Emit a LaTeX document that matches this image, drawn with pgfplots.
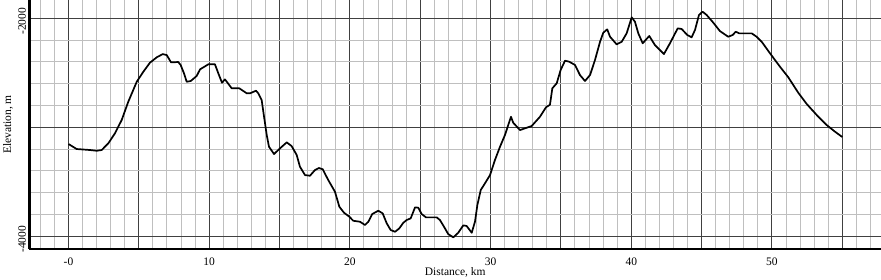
\documentclass[border=0pt]{standalone}
\usepackage{fontspec}
\setmainfont{Liberation Serif}
\usepackage{pgfplots}
\pgfplotsset{compat=1.18}
\begin{document}
\begin{tikzpicture}
\useasboundingbox (-29.5bp,-31bp) rectangle (851.5bp,249bp);
\begin{axis}[
  at={(0,0)}, anchor=south west,
  scale only axis, width=851.5bp, height=249bp,
  xmin=-2.772, xmax=57.75, ymin=-4116, ymax=-1832,
  axis x line*=bottom, axis y line*=left,
  axis line style={line width=2bp, -},
  xtick={0,5,...,55},
  xticklabels={{-0},{},{10},{},{20},{},{30},{},{40},{},{50},{}},
  minor xtick={-2,-1,...,57},
  ytick={-4000,-3000,-2000},
  yticklabels={{-4000},{},{-2000}},
  minor ytick={-4000,-3800,...,-1800},
  major tick length=0pt, minor tick length=0pt,
  grid=both,
  major grid style={color=black!75, line width=1bp},
  minor grid style={color=black!25, line width=1bp},
  every tick label/.append style={font=\fontsize{11.5bp}{13bp}\selectfont},
  xticklabel style={anchor=north, yshift=-5.5bp},
  yticklabel style={rotate=90, anchor=south, xshift=-3bp},
  xlabel={Distance, km}, ylabel={Elevation, m},
  label style={font=\fontsize{11.5bp}{13bp}\selectfont},
  xlabel style={at={(axis description cs:0.5,-0.094)}, anchor=center},
  ylabel style={at={(axis description cs:-0.0252,0.5)}, anchor=center},
  clip=true,
]
\addplot[black, line width=1.7bp, line join=round] coordinates {
(0.00,-3153) (0.58,-3199) (1.53,-3208) (2.00,-3215) (2.36,-3208) (2.83,-3147)
(3.30,-3055) (3.78,-2933) (4.25,-2765) (4.85,-2582) (5.32,-2490) (5.79,-2407)
(6.27,-2358) (6.70,-2328) (6.98,-2337) (7.29,-2404) (7.80,-2401) (7.97,-2428)
(8.21,-2505) (8.40,-2582) (8.69,-2575) (9.11,-2529) (9.35,-2468) (9.94,-2422)
(10.41,-2422) (10.65,-2505) (10.91,-2591) (11.12,-2560) (11.60,-2642) (12.14,-2642)
(12.67,-2688) (12.90,-2688) (13.33,-2664) (13.49,-2688) (13.73,-2750) (13.90,-2903)
(14.09,-3071) (14.25,-3178) (14.61,-3245) (15.03,-3193) (15.51,-3138) (15.86,-3172)
(16.22,-3254) (16.45,-3361) (16.81,-3438) (17.16,-3444) (17.52,-3392) (17.80,-3373)
(18.07,-3385) (18.46,-3483) (18.94,-3591) (19.25,-3728) (19.58,-3783) (19.96,-3820)
(20.24,-3857) (20.72,-3866) (21.07,-3896) (21.31,-3866) (21.59,-3795) (22.02,-3765)
(22.33,-3789) (22.62,-3881) (22.90,-3942) (23.21,-3958) (23.51,-3927) (23.80,-3875)
(24.04,-3850) (24.32,-3835) (24.51,-3774) (24.63,-3734) (24.86,-3737) (25.10,-3795)
(25.41,-3826) (26.17,-3826) (26.40,-3850) (26.69,-3912) (26.99,-3979) (27.35,-4009)
(27.70,-3967) (28.06,-3899) (28.30,-3905) (28.66,-3967) (28.89,-3866) (29.06,-3713)
(29.30,-3575) (29.60,-3514) (29.96,-3438) (30.31,-3300) (30.67,-3178) (31.02,-3071)
(31.45,-2903) (31.61,-2958) (32.09,-3025) (32.45,-3009) (32.92,-2988) (33.51,-2903)
(33.94,-2816) (34.22,-2793) (34.39,-2642) (34.70,-2596) (34.98,-2474) (35.29,-2389)
(35.59,-2398) (36.00,-2428) (36.35,-2520) (36.71,-2575) (37.07,-2520) (37.42,-2383)
(37.78,-2215) (38.01,-2132) (38.29,-2101) (38.49,-2169) (38.96,-2239) (39.32,-2215)
(39.67,-2138) (40.03,-1991) (40.26,-2031) (40.50,-2138) (40.81,-2229) (41.28,-2162)
(41.68,-2245) (42.32,-2328) (42.75,-2229) (43.30,-2092) (43.58,-2098) (43.98,-2153)
(44.29,-2174) (44.53,-2107) (44.81,-1970) (45.07,-1939) (45.36,-1970) (45.83,-2040)
(46.30,-2117) (46.89,-2169) (47.21,-2153) (47.42,-2123) (47.68,-2138) (48.56,-2138)
(48.91,-2169) (49.27,-2215) (49.86,-2321) (50.57,-2444) (51.16,-2541) (51.87,-2683)
(52.47,-2786) (53.18,-2887) (53.89,-2979) (54.48,-3040) (55.00,-3089)
};
\end{axis}
\end{tikzpicture}
\end{document}
